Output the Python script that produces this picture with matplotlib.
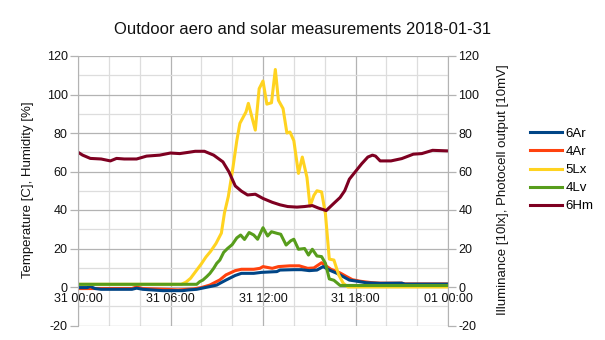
import numpy as np
import matplotlib
matplotlib.use("Agg")
import matplotlib.pyplot as plt
from matplotlib.ticker import MultipleLocator

plt.rcParams['font.family'] = ['Liberation Sans', 'DejaVu Sans']
plt.rcParams['axes.unicode_minus'] = False

# ---- data (hours since 31 00:00) ----
hm_hours = [0.0, 0.3, 0.8, 1.5, 2.1, 2.5, 3.0, 3.8, 4.45, 5.3, 6.0, 6.6, 7.2, 7.6, 8.2, 8.8,
            9.4, 9.8, 10.2, 10.6, 11.0, 11.5, 12.0, 12.6, 13.1, 13.6, 14.2, 14.7, 15.2, 15.6,
            16.1, 16.6, 17.0, 17.3, 17.6, 17.9, 18.4, 18.8, 19.1, 19.3, 19.6, 20.3, 21.0, 21.75,
            22.3, 23.0, 24.0]
hm_vals = [70.0, 68.5, 66.8, 66.5, 65.5, 66.8, 66.5, 66.5, 68.0, 68.5, 69.6, 69.3, 70.0, 70.5,
           70.5, 68.5, 65.0, 59.7, 52.5, 49.8, 47.8, 48.2, 46.0, 44.0, 42.7, 41.8, 41.5, 41.8,
           42.3, 41.0, 39.7, 43.5, 46.5, 50.0, 56.0, 59.0, 64.0, 67.5, 68.5, 68.0, 65.5, 65.5,
           66.7, 69.0, 69.3, 71.0, 70.7]

lx_hours = [0.0, 6.7, 7.0, 7.3, 7.7, 8.0, 8.3, 8.6, 8.95, 9.3, 9.5, 9.75, 10.05, 10.3, 10.5,
            10.7, 10.9, 11.05, 11.5, 11.75, 12.0, 12.25, 12.55, 12.8, 13.0, 13.3, 13.55, 13.75,
            14.0, 14.3, 14.55, 14.85, 15.05, 15.3, 15.5, 15.8, 16.05, 16.3, 16.6, 16.9, 17.2,
            17.5, 24.0]
lx_vals = [1.4, 1.4, 2.5, 4.5, 8.8, 12.0, 15.6, 18.5, 22.6, 28.0, 38.5, 47.0, 62.0, 76.0, 85.0,
           88.0, 91.0, 95.4, 81.5, 103.0, 107.0, 95.0, 95.7, 113.0, 97.0, 92.7, 80.0, 80.5,
           76.0, 59.0, 67.5, 57.0, 42.0, 47.6, 50.0, 49.4, 38.0, 14.5, 14.0, 6.5, 2.0,
           0.0, 0.0]

lv_hours = [0.0, 7.7, 7.9, 8.1, 8.35, 8.55, 8.8, 9.0, 9.2, 9.45, 9.7, 10.0, 10.3, 10.55, 10.8,
            11.1, 11.4, 11.65, 12.0, 12.3, 12.55, 12.9, 13.15, 13.5, 13.8, 14.0, 14.3, 14.7,
            14.95, 15.2, 15.5, 15.8, 16.05, 16.3, 16.6, 17.0, 24.0]
lv_vals = [1.4, 1.4, 2.8, 3.6, 5.4, 7.0, 9.7, 12.3, 14.0, 18.0, 20.0, 22.0, 25.5, 27.0, 24.7,
           28.3, 27.0, 24.8, 30.8, 26.5, 28.7, 27.9, 27.4, 21.8, 24.0, 24.8, 19.6, 20.0,
           16.6, 19.6, 16.1, 15.8, 12.3, 4.2, 3.5, 0.8, 0.8]

ar6_hours = [0.0, 0.6, 0.8, 1.1, 1.5, 3.5, 3.8, 4.2, 5.5, 6.8, 7.2, 7.7, 8.0, 8.3, 8.55, 9.0,
             9.2, 9.6, 10.2, 10.6, 11.4, 11.9, 12.9, 13.1, 14.0, 14.5, 15.0, 15.5, 15.9, 16.3,
             16.8, 17.2, 17.6, 18.1, 18.7, 19.6, 21.0, 21.2, 24.0]
ar6_vals = [-0.3, -0.3, 0.3, -0.8, -1.2, -1.2, -0.6, -1.2, -1.9, -1.9, -1.5, -1.2, -0.7, -0.2,
            0.2, 1.0, 1.9, 3.6, 6.0, 7.1, 7.1, 7.6, 8.0, 8.8, 9.0, 9.0, 8.5, 8.8, 10.6, 8.8,
            7.1, 5.4, 3.6, 3.0, 2.2, 1.9, 2.0, 1.5, 1.5]

ar4_hours = [0.0, 3.5, 3.8, 4.2, 6.5, 7.5, 8.0, 8.55, 9.2, 9.6, 10.2, 10.6, 11.4, 11.8, 12.0,
             12.6, 13.0, 13.75, 14.35, 14.9, 15.3, 15.8, 16.1, 16.4, 17.0, 17.4, 17.8, 18.3,
             19.0, 19.6, 21.0, 21.2, 24.0]
ar4_vals = [-0.8, -0.8, 0.0, -0.8, -1.5, -1.0, -0.3, 1.0, 3.7, 6.3, 8.5, 9.2, 9.2, 9.7, 10.6,
            9.7, 10.6, 11.0, 11.0, 9.7, 9.9, 12.6, 10.9, 9.2, 7.3, 5.5, 3.8, 3.0, 2.3, 2.0,
            2.0, 1.6, 1.6]

series_names = ["6Ar", "4Ar", "5Lx", "4Lv", "6Hm"]
series_colors = ["#004586", "#ff420e", "#ffd320", "#579d1c", "#7e0021"]

x_tick_pos = [0, 6, 12, 18, 24]
x_tick_labels = ["31 00:00", "31 06:00", "31 12:00", "31 18:00", "01 00:00"]

title = "Outdoor aero and solar measurements 2018-01-31"
left_label = "Temperature [C], Humidity [%]"
right_label = "Illuminance [10lx], Photocell output [10mV]"

# ---- figure ----
W, H = 605, 340
fig = plt.figure(figsize=(W / 100, H / 100), dpi=100)
L, R, T, B = 78, 448, 56, 325.5
ax = fig.add_axes([L / W, 1 - B / H, (R - L) / W, (B - T) / H])
ax2 = ax.twinx()

grid_major = "#b3b3b3"
grid_minor = "#dddddd"

for a in (ax, ax2):
    a.set_xlim(0, 24)
    a.set_ylim(-20, 120)
    a.yaxis.set_major_locator(MultipleLocator(20))

ax.yaxis.set_minor_locator(MultipleLocator(10))
ax.xaxis.set_minor_locator(MultipleLocator(2))
ax.set_xticks(x_tick_pos)
ax.set_xticklabels(x_tick_labels)
ax.grid(which="major", color=grid_major, lw=0.9)
ax.grid(which="minor", color=grid_minor, lw=0.9)
ax.set_axisbelow(True)

ax.spines["top"].set_visible(False)
ax2.spines["top"].set_visible(False)
ax.spines["bottom"].set_position(("data", 0))
ax.spines["bottom"].set_visible(False)
ax2.spines["bottom"].set_visible(False)
ax.spines["left"].set_color(grid_major)
ax2.spines["right"].set_color(grid_major)
ax2.spines["left"].set_visible(False)
ax.spines["right"].set_visible(False)

ax.tick_params(axis="x", which="both", length=0, pad=4, labelsize=9, labelcolor="#111111")
ax.tick_params(axis="y", which="major", length=5.5, color=grid_major, width=0.9,
               labelsize=9, labelcolor="#111111", pad=2)
ax.tick_params(axis="y", which="minor", length=0)
ax2.tick_params(axis="y", which="major", length=5.5, color=grid_major, width=0.9,
                labelsize=9, labelcolor="#111111", pad=2)

lw = 2.2
handles = {}
h, = ax.plot(ar4_hours, ar4_vals, color=series_colors[1], lw=lw, solid_joinstyle="round")
handles["4Ar"] = h
h, = ax.plot(ar6_hours, ar6_vals, color=series_colors[0], lw=lw, solid_joinstyle="round")
handles["6Ar"] = h
h, = ax.plot(lx_hours, lx_vals, color=series_colors[2], lw=lw, solid_joinstyle="round")
handles["5Lx"] = h
h, = ax.plot(lv_hours, lv_vals, color=series_colors[3], lw=lw, solid_joinstyle="round")
handles["4Lv"] = h
h, = ax.plot(hm_hours, hm_vals, color=series_colors[4], lw=lw, solid_joinstyle="round")
handles["6Hm"] = h

fig.legend([handles[n] for n in series_names], series_names, loc="center left",
           bbox_to_anchor=(530 / W, 1 - 170 / H), frameon=False, fontsize=9.5,
           handlelength=2.45, handletextpad=0.25, labelspacing=0.45,
           borderpad=0, borderaxespad=0)

fig.text(0.5, 1 - 30 / H, title, ha="center", va="center", fontsize=12, color="#111111")
fig.text(28 / W, 1 - 190 / H, left_label, rotation=90, ha="center", va="center",
         fontsize=9.5, color="#111111")
fig.text(503 / W, 1 - 190 / H, right_label, rotation=90, ha="center", va="center",
         fontsize=9.5, color="#111111")

fig.savefig("out.png", dpi=100)
